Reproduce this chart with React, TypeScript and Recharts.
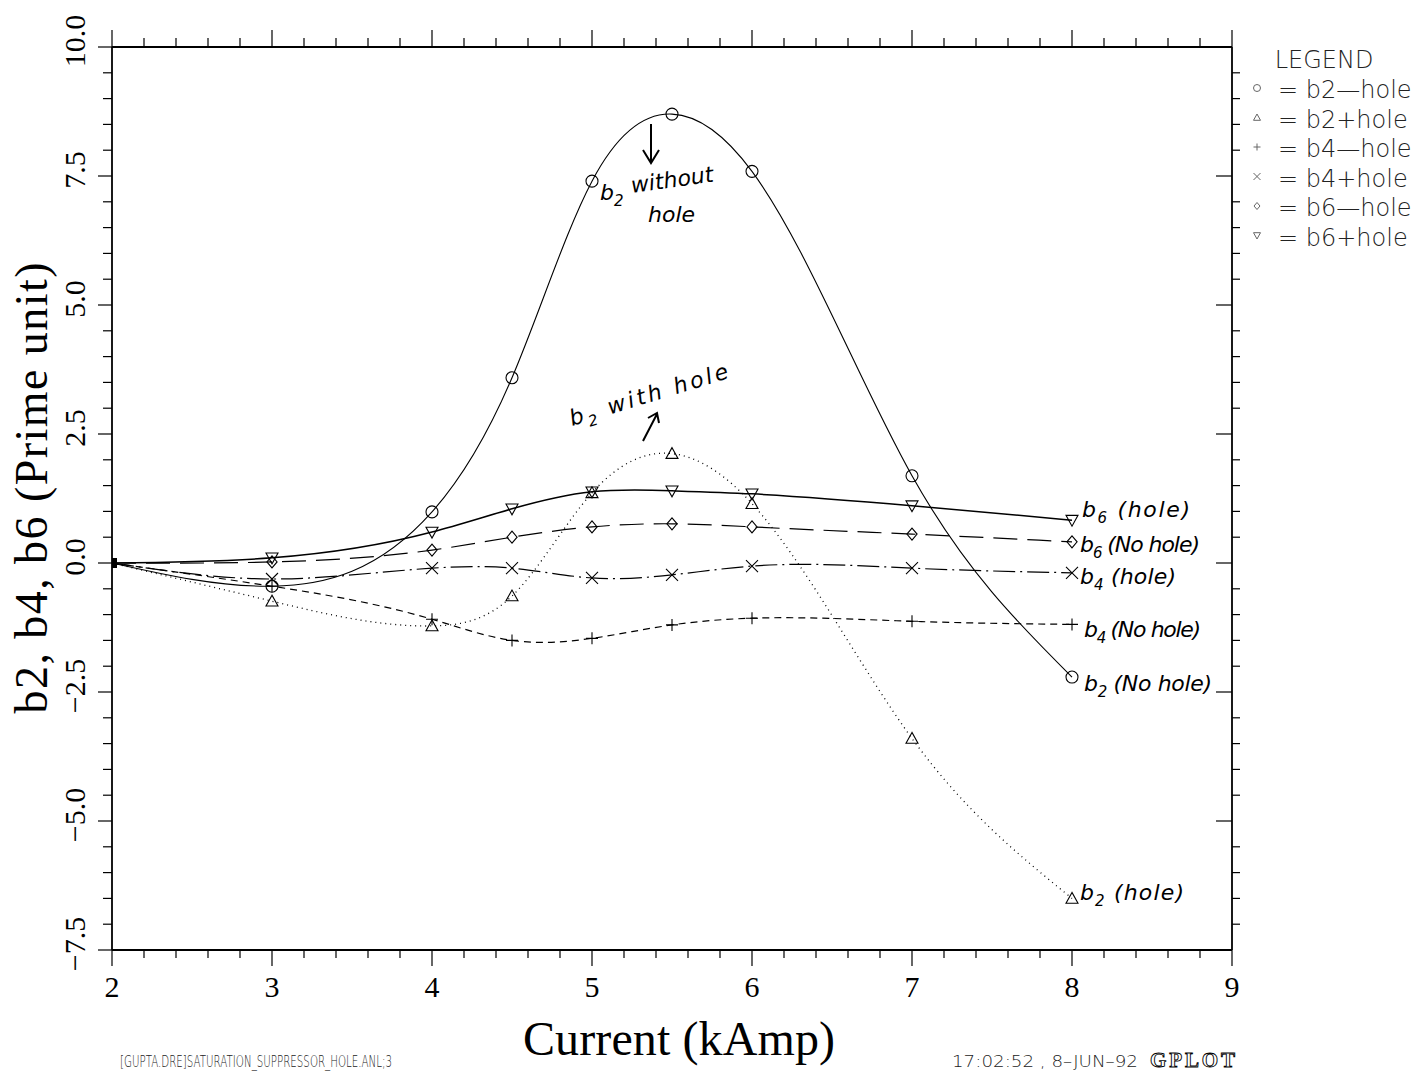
import { LineChart, Line, XAxis, YAxis, ReferenceLine } from 'recharts';

// current in kAmp, harmonics in prime units
const CURRENT = [2, 3, 4, 4.5, 5, 5.5, 6, 7, 8];
const B2_NO_HOLE = [0, -0.45, 0.99, 3.59, 7.4, 8.7, 7.59, 1.69, -2.21];
const B2_HOLE = [0, -0.74, -1.22, -0.64, 1.36, 2.12, 1.15, -3.4, -6.5];
const B4_NO_HOLE = [0, -0.45, -1.09, -1.5, -1.46, -1.2, -1.07, -1.13, -1.19];
const B4_HOLE = [0, -0.31, -0.1, -0.1, -0.29, -0.23, -0.06, -0.1, -0.19];
const B6_NO_HOLE = [0, 0.02, 0.25, 0.5, 0.7, 0.76, 0.7, 0.56, 0.41];
const B6_HOLE = [0, 0.1, 0.6, 1.05, 1.38, 1.4, 1.34, 1.11, 0.83];

const Y_MAJOR = [-7.5, -5, -2.5, 0, 2.5, 5, 7.5, 10];
const Y_LABELS = ['\u22127.5', '\u22125.0', '\u22122.5', '0.0', '2.5', '5.0', '7.5', '10.0'];
const LEGEND_ITEMS = ['b2\u2014hole', 'b2+hole', 'b4\u2014hole', 'b4+hole', 'b6\u2014hole', 'b6+hole'];
const LEGEND_SHAPES = ['circle', 'triangle', 'plus', 'cross', 'diamond', 'down'];

const data = CURRENT.map((c, i) => ({
  current: c,
  b2NoHole: B2_NO_HOLE[i],
  b2Hole: B2_HOLE[i],
  b4NoHole: B4_NO_HOLE[i],
  b4Hole: B4_HOLE[i],
  b6NoHole: B6_NO_HOLE[i],
  b6Hole: B6_HOLE[i],
}));

const xTicks: number[] = [];
for (let i = 0; i <= 35; i++) xTicks.push(Math.round((2 + i * 0.2) * 10) / 10);
const yTicks: number[] = [];
for (let i = 0; i <= 35; i++) yTicks.push(Math.round((-7.5 + i * 0.5) * 10) / 10);

const isMajorX = (v: number) => Math.abs(v - Math.round(v)) < 1e-6;
const isMajorY = (v: number) => Math.abs(v / 2.5 - Math.round(v / 2.5)) < 1e-6;

const PLOT_TOP = 47;

const SERIF = '"Liberation Serif", "Times New Roman", serif';
const SANS = '"DejaVu Sans", sans-serif';
const HAND = '"DejaVu Sans", sans-serif';

// cubic spline of y as a function of x (natural end conditions)
const splineX = (context: any) => {
  let xs: number[] = [];
  let ys: number[] = [];
  return {
    areaStart() {},
    areaEnd() {},
    lineStart() {
      xs = [];
      ys = [];
    },
    point(x: number, y: number) {
      xs.push(+x);
      ys.push(+y);
    },
    lineEnd() {
      const n = xs.length;
      if (!n) return;
      context.moveTo(xs[0], ys[0]);
      if (n === 1) return;
      if (n === 2) {
        context.lineTo(xs[1], ys[1]);
        return;
      }
      const h: number[] = [];
      for (let i = 0; i < n - 1; i++) h.push(xs[i + 1] - xs[i]);
      const M = new Array(n).fill(0);
      const a: number[] = [], b: number[] = [], c: number[] = [], d: number[] = [];
      for (let i = 1; i < n - 1; i++) {
        a.push(h[i - 1]);
        b.push(2 * (h[i - 1] + h[i]));
        c.push(h[i]);
        d.push(6 * ((ys[i + 1] - ys[i]) / h[i] - (ys[i] - ys[i - 1]) / h[i - 1]));
      }
      const m = b.length;
      for (let i = 1; i < m; i++) {
        const w = a[i] / b[i - 1];
        b[i] -= w * c[i - 1];
        d[i] -= w * d[i - 1];
      }
      const sol = new Array(m).fill(0);
      sol[m - 1] = d[m - 1] / b[m - 1];
      for (let i = m - 2; i >= 0; i--) sol[i] = (d[i] - c[i] * sol[i + 1]) / b[i];
      for (let i = 0; i < m; i++) M[i + 1] = sol[i];
      for (let i = 0; i < n - 1; i++) {
        const hi = h[i];
        const s = (ys[i + 1] - ys[i]) / hi;
        const d0 = s - (hi * (2 * M[i] + M[i + 1])) / 6;
        const d1 = s + (hi * (M[i] + 2 * M[i + 1])) / 6;
        context.bezierCurveTo(
          xs[i] + hi / 3,
          ys[i] + (d0 * hi) / 3,
          xs[i + 1] - hi / 3,
          ys[i + 1] - (d1 * hi) / 3,
          xs[i + 1],
          ys[i + 1]
        );
      }
    },
  };
};

const BottomTick = ({ x, y, payload }: any) => {
  const major = isMajorX(payload.value);
  return (
    <g>
      <line x1={x} x2={x} y1={y} y2={y + (major ? 16 : 8)} stroke="#000" strokeWidth={1.2} />
      <line x1={x} x2={x} y1={PLOT_TOP} y2={PLOT_TOP - (major ? 17 : 9)} stroke="#000" strokeWidth={1.2} />
      {major && (
        <text x={x} y={y + 47} textAnchor="middle" fontFamily={SERIF} fontSize={30} fill="#000">
          {payload.value}
        </text>
      )}
    </g>
  );
};

const LeftTick = ({ x, y, payload }: any) => {
  const major = isMajorY(payload.value);
  const idx = Y_MAJOR.findIndex((v) => Math.abs(v - payload.value) < 1e-6);
  return (
    <g>
      <line x1={x} x2={x - (major ? 14 : 9)} y1={y} y2={y} stroke="#000" strokeWidth={1.2} />
      {major && idx >= 0 && (
        <text
          transform={`translate(${x - 27}, ${y - 6}) rotate(-90)`}
          textAnchor="middle"
          fontFamily={SERIF}
          fontSize={30}
          fill="#000"
        >
          {Y_LABELS[idx]}
        </text>
      )}
    </g>
  );
};

const RightTick = ({ x, y, payload }: any) => {
  const major = isMajorY(payload.value);
  return major ? (
    <line x1={x} x2={x - 16} y1={y} y2={y} stroke="#000" strokeWidth={1.2} />
  ) : (
    <line x1={x} x2={x + 8} y1={y} y2={y} stroke="#000" strokeWidth={1.2} />
  );
};

const Marker = ({ shape, cx, cy, s = 6, color = '#000', sw = 1.1 }: any) => {
  const p = { fill: 'none', stroke: color, strokeWidth: sw };
  switch (shape) {
    case 'circle':
      return <circle cx={cx} cy={cy} r={s} {...p} />;
    case 'triangle':
      return <polygon points={`${cx},${cy - s} ${cx - s},${cy + s * 0.8} ${cx + s},${cy + s * 0.8}`} {...p} />;
    case 'down':
      return <polygon points={`${cx - s},${cy - s * 0.8} ${cx + s},${cy - s * 0.8} ${cx},${cy + s}`} {...p} />;
    case 'plus':
      return <path d={`M${cx - s},${cy}H${cx + s}M${cx},${cy - s}V${cy + s}`} {...p} />;
    case 'cross':
      return <path d={`M${cx - s},${cy - s}L${cx + s},${cy + s}M${cx - s},${cy + s}L${cx + s},${cy - s}`} {...p} />;
    case 'diamond':
      return <polygon points={`${cx},${cy - s} ${cx + s * 0.85},${cy} ${cx},${cy + s} ${cx - s * 0.85},${cy}`} {...p} />;
    default:
      return null;
  }
};

const makeDot = (shape: string) => (props: any) => {
  const { cx, cy, index } = props;
  if (index === 0) {
    return <rect key={`d-${shape}-${index}`} x={cx - 5} y={cy - 5} width={10} height={10} fill="#000" />;
  }
  return (
    <g key={`d-${shape}-${index}`}>
      <Marker shape={shape} cx={cx} cy={cy} />
    </g>
  );
};

const Sub = ({ base, sub, rest }: { base: string; sub: string; rest: string }) => (
  <>
    {base}
    <tspan dy={6} fontSize={15}>
      {sub}
    </tspan>
    <tspan dy={-6}>{rest}</tspan>
  </>
);

// hand-written curve labels at the right end of each series
const END_NOTES = [
  { sub: '6', rest: ' (hole)', x: 1082, y: 517, len: 108 },
  { sub: '6', rest: ' (No hole)', x: 1080, y: 552, len: 120 },
  { sub: '4', rest: ' (hole)', x: 1080, y: 584, len: 96 },
  { sub: '4', rest: ' (No hole)', x: 1084, y: 637, len: 117 },
  { sub: '2', rest: ' (No hole)', x: 1084, y: 691, len: 128 },
  { sub: '2', rest: ' (hole)', x: 1080, y: 900, len: 104 },
];

export default function App() {
  return (
    <div style={{ position: 'absolute', left: 0, top: 0, width: 1415, height: 1072, background: '#fff' }}>
      <LineChart
        width={1415}
        height={1072}
        data={data}
        margin={{ top: PLOT_TOP, right: 163, bottom: 62, left: 52 }}
      >
        <XAxis
          dataKey="current"
          type="number"
          domain={[2, 9]}
          ticks={xTicks}
          interval={0}
          height={60}
          tickSize={0}
          tickMargin={0}
          tickLine={false}
          axisLine={{ stroke: '#000', strokeWidth: 1.8 }}
          tick={<BottomTick />}
          allowDataOverflow
        />
        <YAxis
          type="number"
          domain={[-7.5, 10]}
          ticks={yTicks}
          interval={0}
          width={60}
          tickSize={0}
          tickMargin={0}
          tickLine={false}
          axisLine={{ stroke: '#000', strokeWidth: 1.8 }}
          tick={<LeftTick />}
          allowDataOverflow
        />
        <YAxis
          yAxisId="right"
          orientation="right"
          type="number"
          domain={[-7.5, 10]}
          ticks={yTicks}
          interval={0}
          width={20}
          tickSize={0}
          tickMargin={0}
          tickLine={false}
          axisLine={{ stroke: '#000', strokeWidth: 1.8 }}
          tick={<RightTick />}
          allowDataOverflow
        />
        <ReferenceLine y={10} stroke="#000" strokeWidth={1.8} />
        <Line
          type={splineX as any}
          dataKey="b2NoHole"
          stroke="#000"
          strokeWidth={1.1}
          dot={makeDot('circle')}
          isAnimationActive={false}
        />
        <Line
          type={splineX as any}
          dataKey="b2Hole"
          stroke="#000"
          strokeWidth={1.3}
          strokeDasharray="1 4"
          dot={makeDot('triangle')}
          isAnimationActive={false}
        />
        <Line
          type={splineX as any}
          dataKey="b4NoHole"
          stroke="#000"
          strokeWidth={1.2}
          strokeDasharray="7 5"
          dot={makeDot('plus')}
          isAnimationActive={false}
        />
        <Line
          type={splineX as any}
          dataKey="b4Hole"
          stroke="#000"
          strokeWidth={1.2}
          strokeDasharray="22 5 2 5"
          dot={makeDot('cross')}
          isAnimationActive={false}
        />
        <Line
          type={splineX as any}
          dataKey="b6NoHole"
          stroke="#000"
          strokeWidth={1.2}
          strokeDasharray="24 10"
          dot={makeDot('diamond')}
          isAnimationActive={false}
        />
        <Line
          type={splineX as any}
          dataKey="b6Hole"
          stroke="#000"
          strokeWidth={1.5}
          dot={makeDot('down')}
          isAnimationActive={false}
        />
      </LineChart>

      <svg
        width={1415}
        height={1072}
        style={{ position: 'absolute', left: 0, top: 0, pointerEvents: 'none' }}
      >
        {/* axis titles */}
        <text
          transform="translate(47, 488) rotate(-90)"
          textAnchor="middle"
          fontFamily={SERIF}
          fontSize={46}
          textLength={451}
          lengthAdjust="spacing"
          fill="#000"
        >
          b2, b4, b6 (Prime unit)
        </text>
        <text
          x={679}
          y={1055}
          textAnchor="middle"
          fontFamily={SERIF}
          fontSize={48}
          textLength={312}
          lengthAdjust="spacing"
          fill="#000"
        >
          Current (kAmp)
        </text>

        {/* legend */}
        <text x={1324} y={68} textAnchor="middle" fontFamily={SANS} fontWeight={200} fontSize={24} fill="#222">
          LEGEND
        </text>
        {LEGEND_ITEMS.map((label, i) => (
          <g key={label}>
            <Marker shape={LEGEND_SHAPES[i]} cx={1257} cy={88 + i * 29.5} s={3.5} color="#666" sw={1} />
            <text x={1278} y={98 + i * 29.5} fontFamily={SANS} fontWeight={200} fontSize={24} fill="#222">
              = {label}
            </text>
          </g>
        ))}

        {/* hand annotations */}
        <g fontFamily={HAND} fontStyle="italic" fontSize={22} fill="#000">
          <path d="M651,124 L651,162 M643,150 L651,163 L659,150" stroke="#000" strokeWidth={2} fill="none" />
          <text x={600} y={200}>
            <Sub base="b" sub="2" rest="" />
          </text>
          <text x={632} y={193} transform="rotate(-8, 632, 193)" textLength={83}>without</text>
          <text x={648} y={222}>hole</text>

          <path d="M643,441 L657,414 M648,418 L657,413 L659,423" stroke="#000" strokeWidth={2} fill="none" />
          <text x={572} y={426} transform="rotate(-17, 572, 426)" textLength={165}>
            <Sub base="b" sub="2" rest=" with hole" />
          </text>

          {END_NOTES.map((n) => (
            <text key={`${n.sub}${n.rest}`} x={n.x} y={n.y} textLength={n.len}>
              <Sub base="b" sub={n.sub} rest={n.rest} />
            </text>
          ))}
        </g>

        {/* footer */}
        <text x={120} y={1067} fontFamily={SANS} fontWeight={200} fontSize={16} textLength={272} lengthAdjust="spacingAndGlyphs" fill="#222">
          [GUPTA.DRE]SATURATION_SUPPRESSOR_HOLE.ANL;3
        </text>
        <text x={952} y={1067} fontFamily={SANS} fontWeight={200} fontSize={16} textLength={186} lengthAdjust="spacingAndGlyphs" fill="#222">
          17:02:52 , 8{'\u2013'}JUN{'\u2013'}92
        </text>
        <text x={1150} y={1067} fontFamily={SERIF} fontWeight="bold" fontSize={21} textLength={85} fill="#fff" stroke="#000" strokeWidth={0.9}>
          GPLOT
        </text>
      </svg>
    </div>
  );
}
